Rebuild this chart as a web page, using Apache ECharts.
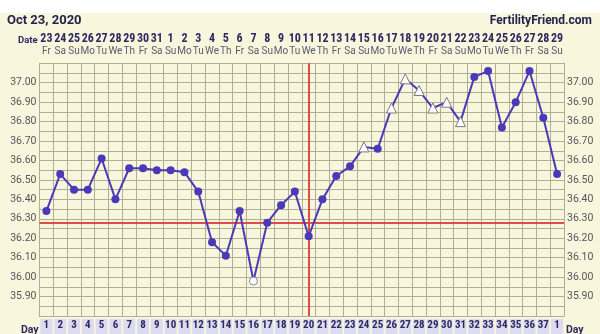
<!DOCTYPE html>
<html>
<head>
<meta charset="utf-8">
<script src="https://cdn.jsdelivr.net/npm/echarts@6/dist/echarts.min.js"></script>
<style>
html,body{margin:0;padding:0;background:#fff;}
#c{width:600px;height:334px;}
</style>
</head>
<body>
<div id="c"></div>
<script>
const cycleDays = ['1','2','3','4','5','6','7','8','9','10','11','12','13','14','15','16','17','18','19','20','21','22','23','24','25','26','27','28','29','30','31','32','33','34','35','36','37','38'];
const dayLabels = ['1','2','3','4','5','6','7','8','9','10','11','12','13','14','15','16','17','18','19','20','21','22','23','24','25','26','27','28','29','30','31','32','33','34','35','36','37','1'];
const dates = ['23','24','25','26','27','28','29','30','31','1','2','3','4','5','6','7','8','9','10','11','12','13','14','15','16','17','18','19','20','21','22','23','24','25','26','27','28','29'];
const weekdays = ['Fr','Sa','Su','Mo','Tu','We','Th','Fr','Sa','Su','Mo','Tu','We','Th','Fr','Sa','Su','Mo','Tu','We','Th','Fr','Sa','Su','Mo','Tu','We','Th','Fr','Sa','Su','Mo','Tu','We','Th','Fr','Sa','Su'];
const temps = [36.34,36.53,36.45,36.45,36.61,36.40,36.56,36.56,36.55,36.55,36.54,36.44,36.18,36.11,36.34,35.98,36.28,36.37,36.44,36.21,36.40,36.52,36.57,36.67,36.66,36.87,37.02,36.96,36.87,36.90,36.80,37.03,37.06,36.77,36.90,37.06,36.82,36.53];
const markers = ['c','c','c','c','c','c','c','c','c','c','c','c','c','c','c','o','c','c','c','c','c','c','c','t','c','t','t','t','t','t','t','c','c','c','c','c','c','c'];
const coverline = 36.28;
const ovulationDay = '20';
const yTicks = ['35.90','36.00','36.10','36.20','36.30','36.40','36.50','36.60','36.70','36.80','36.90','37.00'];

const LINE = '#4a3ab8';
const GRIDC = '#b0ae96';
const NAVY = '#2b2960';
const NARROW = '"Liberation Sans Narrow", "Roboto Condensed", Roboto, sans-serif';

function yFmt(v){
  const s = v.toFixed(2);
  return yTicks.indexOf(s) >= 0 ? s : '';
}

const seriesData = temps.map((t,i)=>{
  const m = markers[i];
  if (m === 't') return {value:t, symbol:'triangle', symbolSize:10, itemStyle:{color:'#ffffff', borderColor:'#7a7a86', borderWidth:1}};
  if (m === 'o') return {value:t, symbol:'circle', symbolSize:8, itemStyle:{color:'#ffffff', borderColor:'#8a86a8', borderWidth:1}};
  return {value:t, symbol:'circle', symbolSize:8, itemStyle:{color:LINE, borderColor:LINE, borderWidth:0}};
});

const chart = echarts.init(document.getElementById('c'), null, {renderer:'canvas'});
const gridLeft = 39.5, gridTop = 63.3, gridW = 524.5, gridH = 260;
chart.setOption({
  animation:false,
  backgroundColor:'#f9f6de',
  graphic:[
    {type:'rect', shape:{x:0,y:0,width:600,height:13}, style:{fill:'#ffffff'}, silent:true, z:-1},
    {type:'text', left:7, top:14, style:{text:'Oct 23, 2020', font:'bold 13px Roboto, "Liberation Sans", sans-serif', fill:'#23224a'}},
    {type:'text', right:8, top:15, style:{text:'FertilityFriend.com', font:'bold 12px Roboto, "Liberation Sans", sans-serif', fill:'#23224a'}},
    {type:'text', left:18, top:36, style:{text:'Date', font:'bold 9.5px Roboto, "Liberation Sans", sans-serif', fill:NAVY}},
    {type:'text', left:21, top:325, style:{text:'Day', font:'bold 10.5px Roboto, "Liberation Sans", sans-serif', fill:NAVY}},
    {type:'text', left:566, top:325, style:{text:'Day', font:'bold 10.5px Roboto, "Liberation Sans", sans-serif', fill:NAVY}}
  ],
  grid:{left:gridLeft, top:gridTop, width:gridW, height:gridH, show:false},
  xAxis:[
    {
      type:'category', position:'bottom', data:cycleDays, boundaryGap:true,
      axisLine:{show:true, lineStyle:{color:GRIDC, width:1}},
      axisTick:{show:false},
      splitLine:{show:true, lineStyle:{color:GRIDC, width:1}},
      axisLabel:{
        interval:0, margin:3,
        formatter:(v,i)=>dayLabels[i],
        color:NAVY, fontSize:11, fontWeight:'bold', fontFamily:NARROW,
        backgroundColor:'#dcdbef', width:12, align:'center', lineHeight:10, padding:[1,0,4,0]
      }
    },
    {
      type:'category', position:'top', data:cycleDays, boundaryGap:true,
      axisLine:{show:true, lineStyle:{color:GRIDC, width:1}},
      axisTick:{show:false},
      axisLabel:{
        interval:0, margin:5,
        formatter:(v,i)=>'{d|'+dates[i]+'}\n{w|'+weekdays[i]+'}',
        rich:{
          d:{fontSize:12, fontWeight:'bold', color:NAVY, lineHeight:13, fontFamily:NARROW},
          w:{fontSize:10, color:'#5a596e', lineHeight:13, fontFamily:'Roboto, "Liberation Sans", sans-serif'}
        }
      }
    }
  ],
  yAxis:[
    {
      type:'value', position:'left', min:35.8, max:37.1, interval:0.05,
      axisLine:{show:true, lineStyle:{color:GRIDC}},
      axisTick:{show:false},
      splitLine:{show:true, lineStyle:{color:GRIDC, width:1}},
      axisLabel:{formatter:yFmt, color:'#55555a', fontSize:10.5, margin:3, fontFamily:'Roboto, "Liberation Sans", sans-serif', showMinLabel:true, showMaxLabel:true}
    },
    {
      type:'value', position:'right', min:35.8, max:37.1, interval:0.05,
      axisLine:{show:true, lineStyle:{color:GRIDC}},
      axisTick:{show:false},
      splitLine:{show:false},
      axisLabel:{formatter:yFmt, color:'#55555a', fontSize:10.5, margin:3, fontFamily:'Roboto, "Liberation Sans", sans-serif'}
    }
  ],
  series:[{
    type:'line', xAxisIndex:0, yAxisIndex:0,
    data:seriesData,
    lineStyle:{color:LINE, width:2},
    itemStyle:{color:LINE},
    z:5,
    markLine:{
      silent:true, symbol:'none', label:{show:false},
      lineStyle:{color:'#de4d4a', width:2, type:'solid'},
      data:[{yAxis:coverline},{xAxis:ovulationDay}]
    }
  }]
});
</script>
</body>
</html>
